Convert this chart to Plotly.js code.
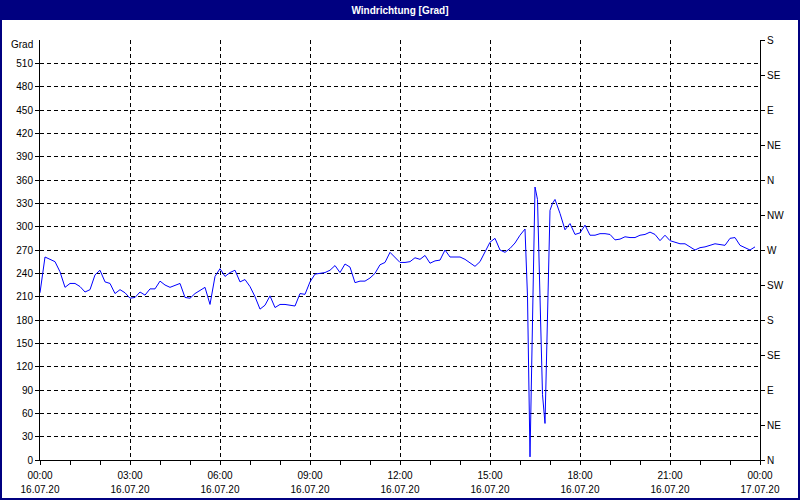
<!DOCTYPE html>
<html>
<head>
<meta charset="utf-8">
<script src="https://cdn.plot.ly/plotly-3.0.1.min.js"></script>
<style>html,body{margin:0;padding:0;background:#fff;}#chart{width:800px;height:500px;}</style>
</head>
<body>
<div id="chart"></div>
<script>
// Time stamps of readings on 16.07.20 (HH:MM)
const times = [
  "00:00","00:10","00:20","00:30","00:40","00:50",
  "01:00","01:10","01:20","01:30","01:40","01:50",
  "02:00","02:10","02:20","02:30","02:40","02:50",
  "03:00","03:10","03:20","03:30","03:40","03:50",
  "04:00","04:10","04:20","04:30","04:40","04:50",
  "05:00","05:10","05:20","05:30","05:40","05:50",
  "06:00","06:10","06:20","06:30","06:40","06:50",
  "07:00","07:10","07:20","07:30","07:40","07:50",
  "08:00","08:10","08:20","08:30","08:40","08:50",
  "09:00","09:10","09:20","09:30","09:40","09:50",
  "10:00","10:10","10:20","10:30","10:40","10:50",
  "11:00","11:10","11:20","11:30","11:40","11:50",
  "12:00","12:10","12:20","12:30","12:40","12:50",
  "13:00","13:10","13:20","13:30","13:40","13:50",
  "14:00","14:10","14:20","14:30","14:40","14:50",
  "15:00","15:10","15:20","15:30","15:40","15:50",
  "16:00","16:10","16:15","16:20","16:25","16:30","16:35","16:40","16:45","16:50","16:55",
  "17:00","17:05","17:10","17:20","17:30","17:40","17:50",
  "18:00","18:10","18:20","18:30","18:40","18:50",
  "19:00","19:10","19:20","19:30","19:40","19:50",
  "20:00","20:10","20:20","20:30","20:40","20:50",
  "21:00","21:10","21:20","21:30","21:40","21:50",
  "22:00","22:10","22:20","22:30","22:40","22:50",
  "23:00","23:10","23:20","23:30","23:40","23:50"
];
// Wind direction in degrees
const windDir = [
  215,261,258,255,242,222,
  227,227,223,216,219,238,
  244,229,227,214,219,215,
  208,209,216,212,220,220,
  230,225,222,225,227,209,
  208,214,218,222,200,236,
  246,236,241,244,229,232,
  223,210,194,199,211,196,
  200,200,199,198,214,213,
  229,239,240,241,244,250,
  241,252,248,228,230,230,
  234,240,251,254,267,260,
  254,254,255,260,258,263,
  253,256,257,270,261,261,
  261,258,253,249,255,267,
  280,285,270,267,272,279,
  289,297,210,4,167,351,335,206,84,47,167,
  321,330,335,317,296,304,290,
  292,302,289,289,291,291,
  290,283,284,287,286,286,
  289,290,293,290,282,289,
  282,280,278,278,274,270,
  273,274,276,278,277,276,
  285,286,276,273,270,274
];
const day = "2020-07-16";
const xTickVals = ["2020-07-16 00:00","2020-07-16 03:00","2020-07-16 06:00","2020-07-16 09:00","2020-07-16 12:00","2020-07-16 15:00","2020-07-16 18:00","2020-07-16 21:00","2020-07-17 00:00"];
const xTimeLabels = ["00:00","03:00","06:00","09:00","12:00","15:00","18:00","21:00","00:00"];
const xDateLabels = ["16.07.20","16.07.20","16.07.20","16.07.20","16.07.20","16.07.20","16.07.20","16.07.20","17.07.20"];
const yTickVals = [0,30,60,90,120,150,180,210,240,270,300,330,360,390,420,450,480,510];
const compassVals = [0,45,90,135,180,225,270,315,360,405,450,495,540];
const compassText = ["N","NE","E","SE","S","SW","W","NW","N","NE","E","SE","S"];

const xs = times.map(t => day + " " + t);
const FONT = {family: "Liberation Sans, Arial, sans-serif", size: 10, color: "#000"};
const NAVY = "#000080";

const traces = [
  {x: xs, y: windDir, type: "scatter", mode: "lines", line: {color: "#0000FF", width: 1}, xaxis: "x", yaxis: "y", hoverinfo: "x+y"},
  {x: [xs[0]], y: [null], type: "scatter", mode: "lines", xaxis: "x2", yaxis: "y2", showlegend: false, hoverinfo: "skip"}
];

const xr = ["2020-07-16 00:00", "2020-07-17 00:00"];
const layout = {
  width: 800, height: 500,
  margin: {l: 40, r: 40, t: 40, b: 40, pad: 0},
  paper_bgcolor: "#fff", plot_bgcolor: "#fff",
  showlegend: false,
  font: FONT,
  title: {text: "<b>Windrichtung [Grad]</b>", font: {family: "Liberation Sans, Arial, sans-serif", size: 10, color: "#fff"},
          x: 0.5, xref: "paper", xanchor: "center", y: 0.98, yref: "container", yanchor: "middle"},
  xaxis: {
    type: "date", range: xr, tickmode: "array", tickvals: xTickVals, ticktext: xTimeLabels,
    showgrid: true, gridcolor: "#000", gridwidth: 1, griddash: "4px,3px",
    showline: true, linecolor: "#000", linewidth: 1,
    ticks: "outside", ticklen: 4, tickcolor: "#000", tickfont: FONT, ticklabelstandoff: 2,
    minor: {ticks: "outside", ticklen: 4, tickcolor: "#000", dtick: 3600000, tick0: "2020-07-16 00:00", showgrid: false},
    zeroline: false, fixedrange: true
  },
  xaxis2: {
    type: "date", range: xr, overlaying: "x", side: "bottom", anchor: "y",
    tickmode: "array", tickvals: xTickVals, ticktext: xDateLabels,
    showgrid: false, showline: false, ticks: "", ticklabelstandoff: 22, tickfont: FONT, zeroline: false
  },
  yaxis: {
    range: [0, 540], tickmode: "array", tickvals: yTickVals,
    showgrid: true, gridcolor: "#000", gridwidth: 1, griddash: "4px,3px",
    showline: true, linecolor: "#000", linewidth: 1,
    ticks: "outside", ticklen: 4, tickcolor: "#000", tickfont: FONT, zeroline: false, fixedrange: true
  },
  yaxis2: {
    range: [0, 540], overlaying: "y", side: "right", anchor: "x",
    tickmode: "array", tickvals: compassVals, ticktext: compassText,
    showgrid: false, showline: true, linecolor: "#000", linewidth: 1,
    ticks: "outside", ticklen: 4, tickcolor: "#000", tickfont: FONT, zeroline: false
  },
  shapes: [
    {type: "rect", xref: "paper", yref: "paper", x0: -0.0556, x1: 1.0556, y0: 1.047619, y1: 1.1, fillcolor: NAVY, line: {width: 0}, layer: "below"},
    {type: "rect", xref: "paper", yref: "paper", x0: -0.05417, x1: 1.05417, y0: -0.092857, y1: 1.092857, fillcolor: "rgba(0,0,0,0)", line: {color: NAVY, width: 2}, layer: "above"}
  ],
  annotations: [
    {text: "Grad", xref: "paper", x: 0, xanchor: "right", xshift: -5, yref: "y", y: 540, yanchor: "middle", yshift: -4, showarrow: false, font: FONT}
  ]
};

Plotly.newPlot("chart", traces, layout, {staticPlot: true, displayModeBar: false});
</script>
</body>
</html>
